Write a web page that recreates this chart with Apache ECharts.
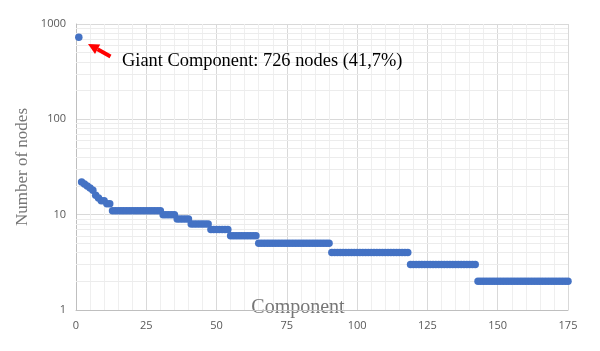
<!DOCTYPE html>
<html>
<head>
<meta charset="utf-8">
<script src="https://cdn.jsdelivr.net/npm/echarts@6/dist/echarts.min.js"></script>
<style>
  html, body { margin: 0; padding: 0; background: #fff; }
  #chart { width: 600px; height: 351px; }
</style>
</head>
<body>
<div id="chart"></div>
<script>
// component sizes, sorted (first 12 read one by one, then the flat steps)
var headSizes = [726, 22, 21, 20, 19, 18, 16, 15, 14, 14, 13, 13]
var stepSizes = [11, 10, 9, 8, 7, 6, 5, 4, 3, 2]
var stepCounts = [18, 5, 5, 7, 7, 10, 26, 28, 24, 33]
var xTicks = [0, 25, 50, 75, 100, 125, 150, 175]
var minorLevels = [2, 3, 4, 5, 6, 7, 8, 9, 20, 30, 40, 50, 60, 70, 80, 90, 200, 300, 400, 500, 600, 700, 800, 900]

var sizes = headSizes.slice()
stepSizes.forEach(function (s, i) {
  for (var k = 0; k < stepCounts[i]; k++) sizes.push(s)
})
var points = sizes.map(function (v, i) { return [i + 1, v] })

var chart = echarts.init(document.getElementById('chart'))
chart.setOption({
  animation: false,
  grid: { left: 76, right: 32, top: 24, bottom: 41, outerBoundsMode: 'none', containLabel: false },
  xAxis: {
    type: 'value',
    min: xTicks[0],
    max: xTicks[xTicks.length - 1],
    interval: 25,
    name: 'Component',
    nameLocation: 'middle',
    nameGap: -12,
    nameMoveOverlap: false,
    nameTextStyle: { fontFamily: 'Liberation Serif', fontSize: 20, color: '#767676', padding: [0, 48, 0, 0] },
    axisLine: { lineStyle: { color: '#bfbfbf' } },
    axisTick: { show: false },
    axisLabel: { color: '#595959', fontSize: 11, fontFamily: 'Open Sans', margin: 10 },
    splitLine: { show: true, lineStyle: { color: '#d9d9d9' } },
    minorTick: { show: false, splitNumber: 5 },
    minorSplitLine: { show: true, lineStyle: { color: '#efefef' } }
  },
  yAxis: {
    type: 'log',
    logBase: 10,
    min: 1,
    max: 1000,
    name: 'Number of nodes',
    nameLocation: 'middle',
    nameGap: 45,
    nameMoveOverlap: false,
    nameTextStyle: { fontFamily: 'Liberation Serif', fontSize: 17, color: '#767676' },
    axisLine: { show: true, lineStyle: { color: '#bfbfbf' } },
    axisTick: { show: false },
    axisLabel: {
      color: '#595959', fontSize: 11, fontFamily: 'Open Sans', margin: 10,
      formatter: function (v) { return String(Math.round(v)) }
    },
    splitLine: { show: true, lineStyle: { color: '#d9d9d9' } }
  },
  series: [
    {
      // light minor grid lines at 2..9 of each decade
      type: 'line',
      data: [],
      silent: true,
      z: 1,
      markLine: {
        z: 1,
        silent: true,
        symbol: ['none', 'none'],
        label: { show: false },
        lineStyle: { color: '#ececec', type: 'solid', width: 1 },
        data: minorLevels.map(function (v) { return { yAxis: v } })
      }
    },
    {
      type: 'scatter',
      data: points,
      symbolSize: 7.5,
      z: 3,
      itemStyle: { color: '#4472c4', opacity: 1 }
    }
  ],
  graphic: [
    {
      type: 'line',
      shape: { x1: 97.6, y1: 49.3, x2: 110.5, y2: 56.5 },
      style: { stroke: '#ff0000', lineWidth: 4 },
      z: 10
    },
    {
      type: 'polygon',
      shape: { points: [[88, 44], [95, 54.1], [100.2, 44.5]] },
      style: { fill: '#ff0000' },
      z: 10
    },
    {
      type: 'text',
      left: 122,
      top: 52,
      style: {
        text: 'Giant Component: 726 nodes (41,7%)',
        font: '18.4px "Liberation Serif"',
        fill: '#000'
      },
      z: 10
    }
  ]
})
</script>
</body>
</html>
